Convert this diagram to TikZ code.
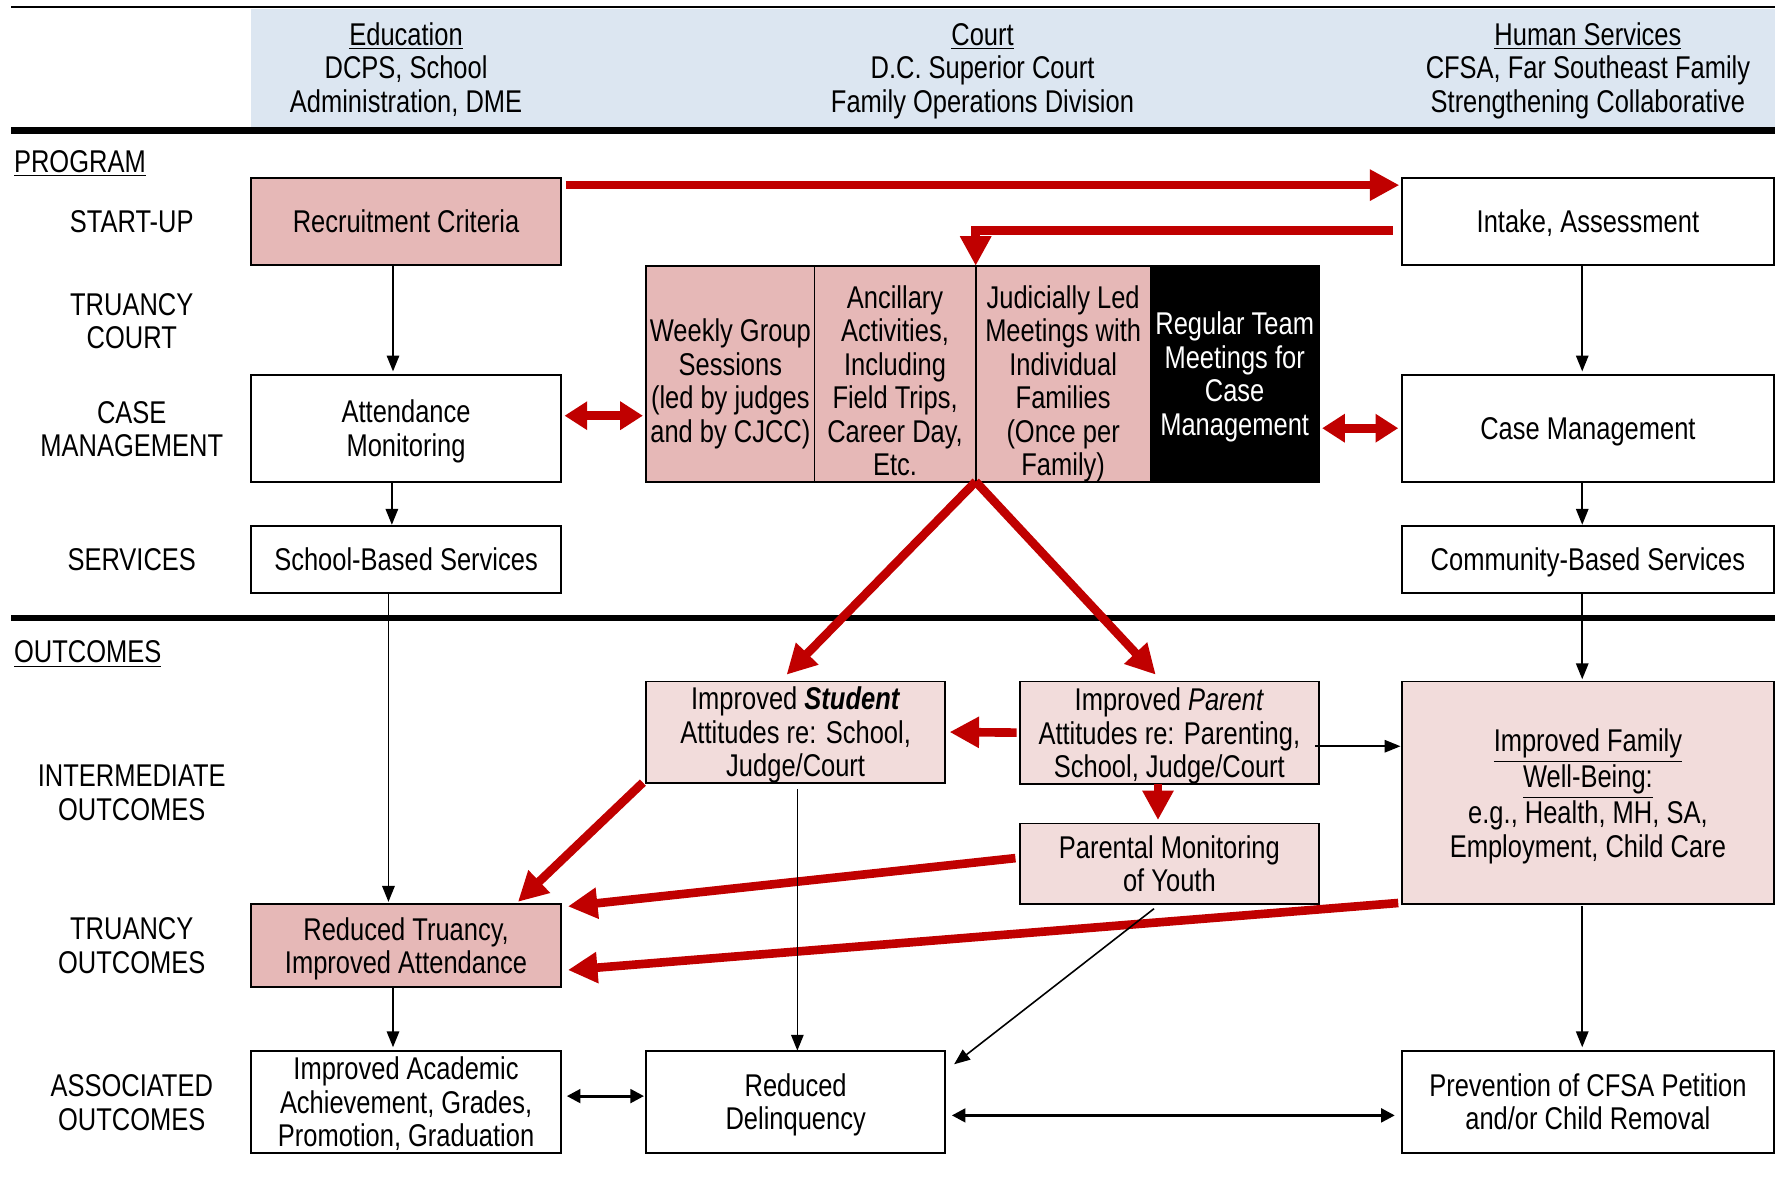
\documentclass[tikz,border=0pt]{standalone}
\usepackage{fontspec}
\setmainfont{Liberation Sans}[FakeStretch=0.81]
\usetikzlibrary{arrows.meta, positioning, calc}
\definecolor{headBlue}{HTML}{DCE6F1}
\definecolor{progPink}{HTML}{E6B8B7}
\definecolor{outPink}{HTML}{F2DCDB}
\definecolor{arrowRed}{HTML}{C00000}

\tikzset{
  box/.style={draw=black, line width=0.8pt, inner sep=0pt, outer sep=0pt, align=center, text depth=0pt},
  sz/.style 2 args={minimum width=#1*0.5pt, minimum height=#2*0.5pt},
  prog/.style={fill=progPink},
  outc/.style={fill=outPink},
  cell/.style={box, prog, text height=#1},
  lbl/.style={inner sep=0pt, align=center, text depth=0pt},
  redarrow/.style={draw=arrowRed, line width=3.8pt, -{Triangle[length=13pt,width=13pt]}},
  redboth/.style={draw=arrowRed, line width=3.8pt, {Triangle[length=10pt,width=12pt]}-{Triangle[length=10pt,width=12pt]}},
  blk/.style={draw=black, line width=0.7pt, -{Triangle[length=7pt,width=5.5pt]}},
  blkboth/.style={draw=black, line width=1.3pt, {Triangle[length=6pt,width=6pt]}-{Triangle[length=6pt,width=6pt]}}
}

\begin{document}
\begin{tikzpicture}[x=0.5pt, y=-0.5pt, font=\fontsize{13.85}{14.75}\selectfont]
\useasboundingbox (0,0) rectangle (1568,1036);
\fill[headBlue] (221,8) rectangle (1563,112);
\draw[line width=1pt] (10,6) -- (1563,6);
\draw[line width=3.4pt] (10,115) -- (1563,115);
\draw[line width=2.5pt] (10,544) -- (1563,544);

\node[lbl] (hedu) at (357.5,59.5) {\underline{Education}\\DCPS, School\\Administration, DME};
\node[lbl] (hcourt) at (865,59.5) {\underline{Court}\\D.C. Superior Court\\Family Operations Division};
\node[lbl] (hhuman) at (1398,59.5) {\underline{Human Services}\\CFSA, Far Southeast Family\\Strengthening Collaborative};
\node[lbl, anchor=west] (lprogram) at (12,142) {\underline{PROGRAM}};
\node[lbl, anchor=west] (loutcomes) at (12,574) {\underline{OUTCOMES}};
\foreach \nm/\yy/\txt in {lstart/195/{START-UP}, lcourt/282.5/{TRUANCY\\COURT}, lcase/377.5/{CASE\\MANAGEMENT}, lserv/493/{SERVICES}, linter/698/{INTERMEDIATE\\OUTCOMES}, ltruancy/832.5/{TRUANCY\\OUTCOMES}, lassoc/970.5/{ASSOCIATED\\OUTCOMES}}
  \node[lbl] (\nm) at (116,\yy) {\txt};

\node[box, prog, sz={273}{76}] (recruit) at (357.5,195) {Recruitment Criteria};
\node[box, sz={328}{76}] (intake) at (1398,195) {Intake, Assessment};
\node[box, sz={273}{94}] (attend) at (357.5,377) {Attendance\\Monitoring};
\node[cell=60.5pt, sz={148}{190}] (weekly) at (643,329) {Weekly Group\\Sessions\\(led by judges\\and by CJCC)};
\node[cell=90pt, sz={142}{190}, right=0pt of weekly] (ancillary) {Ancillary\\Activities,\\Including\\Field Trips,\\Career Day,\\Etc.};
\node[cell=90pt, sz={154}{190}, right=0pt of ancillary] (judicial) {Judicially Led\\Meetings with\\Individual\\Families\\(Once per\\Family)};
\node[box, fill=black, text=white, sz={148}{190}, right=0pt of judicial] (regular) {Regular Team\\Meetings for\\Case\\Management};
\node[box, sz={328}{94}] (casemgmt) at (1398,377) {Case Management};
\node[box, sz={273}{59}] (school) at (357.5,492.5) {School-Based Services};
\node[box, sz={328}{59}] (community) at (1398,492.5) {Community-Based Services};

\node[box, outc, sz={263}{89}] (student) at (700.5,644.5) {Improved \textbf{\textit{Student}}\\Attitudes re: School,\\Judge/Court};
\node[box, outc, sz={263}{90}] (parent) at (1029.5,645) {Improved \textit{Parent}\\Attitudes re: Parenting,\\School, Judge/Court};
\node[box, outc, sz={328}{196}] (family) at (1398,698) {\underline{Improved Family}\\\underline{Well-Being:}\\e.g., Health, MH, SA,\\Employment, Child Care};
\node[box, outc, sz={263}{71}] (monitor) at (1029.5,760.5) {Parental Monitoring\\of Youth};
\node[box, prog, sz={273}{73}] (truancy) at (357.5,832.5) {Reduced Truancy,\\Improved Attendance};
\node[box, sz={273}{90}] (academic) at (357.5,970) {Improved Academic\\Achievement, Grades,\\Promotion, Graduation};
\node[box, sz={263}{90}] (delinq) at (700.5,970) {Reduced\\Delinquency};
\node[box, sz={328}{90}] (prevent) at (1398,970) {Prevention of CFSA Petition\\and/or Child Removal};

\draw[redarrow] ($(recruit.north east)+(4,6)$) -- ($(intake.north west)+(-2,6)$);
\draw[redarrow] ($(intake.west)+(-8,8)$) -| (ancillary.north east);
\draw[redboth] ($(attend.east)+(3,-11)$) -- ($(weekly.west |- attend.east)+(-3,-11)$);
\draw[redboth] ($(regular.east |- casemgmt.west)+(3,0)$) -- ($(casemgmt.west)+(-3,0)$);
\draw[redarrow] (ancillary.south east) -- ($(student.north)+(-8,-6)$);
\draw[redarrow] (ancillary.south east) -- ($(parent.north)+(-12,-6)$);
\draw[redarrow] ($(parent.west)+(-3,0)$) -- ($(student.east)+(4,0)$);
\draw[redarrow] ($(parent.south)+(-10,0)$) -- ($(monitor.north)+(-10,-3)$);
\draw[redarrow] ($(student.south west)+(-3,0)$) -- ($(truancy.north east)+(-38,-2)$);
\draw[redarrow] ($(monitor.west)+(-4,-5)$) -- ($(truancy.north east)+(6,2)$);
\draw[redarrow] ($(family.south west)+(-3,-1)$) -- ($(truancy.east)+(6,21.5)$);

\draw[blk] ($(recruit.south)+(-11.5,0)$) -- ($(attend.north)+(-11.5,-3)$);
\draw[blk] ($(intake.south)+(-5,0)$) -- ($(casemgmt.north)+(-5,-3)$);
\draw[blk] ($(attend.south)+(-12.5,0)$) -- ($(school.north)+(-12.5,-1)$);
\draw[blk] ($(casemgmt.south)+(-5,0)$) -- ($(community.north)+(-5,-1)$);
\draw[blk] ($(school.south)+(-15.5,0)$) -- ($(truancy.north)+(-15.5,-2)$);
\draw[blk] ($(community.south)+(-5,0)$) -- ($(family.north)+(-5,-2)$);
\draw[blk] ($(parent.east)+(-3,12)$) -- ($(family.west |- parent.east)+(-1,12)$);
\draw[blk] ($(truancy.south)+(-11.5,0)$) -- ($(academic.north)+(-11.5,-3)$);
\draw[blk] ($(student.south)+(1.5,6)$) -- ($(delinq.north)+(1.5,0)$);
\draw[blk] ($(monitor.south)+(-13.5,4)$) -- ($(delinq.north east)+(8,12)$);
\draw[blk] ($(family.south)+(-5,2)$) -- ($(prevent.north)+(-5,-3)$);
\draw[blkboth] ($(academic.east)+(5,-5)$) -- ($(delinq.west)+(-2,-5)$);
\draw[blkboth] ($(delinq.east)+(6,12)$) -- ($(prevent.west)+(-6,12)$);
\end{tikzpicture}
\end{document}
